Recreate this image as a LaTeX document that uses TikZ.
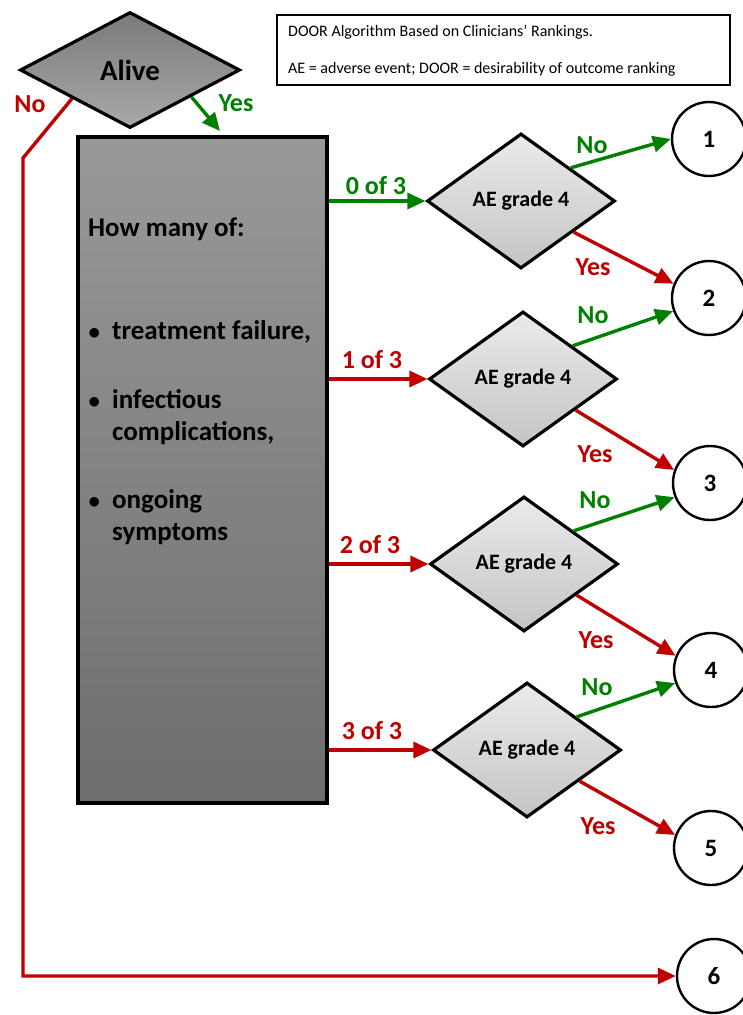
\documentclass[tikz,border=0pt]{standalone}
\usepackage{fontspec}
\setmainfont{Carlito}
\usetikzlibrary{shapes.geometric,arrows.meta,calc}
\definecolor{myred}{HTML}{C00000}
\definecolor{mygreen}{HTML}{008000}
\begin{document}
\begin{tikzpicture}[x=1pt,y=-1pt,
  dia/.style={diamond,draw=black,line width=3.2pt,inner sep=0pt,
     minimum width=188pt,minimum height=135pt,top color=white!92!black,bottom color=white!77!black,
     font=\bfseries\fontsize{22}{24}\selectfont},
  res/.style={circle,draw=black,line width=2.4pt,fill=white,minimum size=74pt,inner sep=0pt,
     font=\bfseries\fontsize{25}{28}\selectfont},
  arr/.style={line width=3.4pt,-{Triangle[length=18pt,width=16pt]}},
  garr/.style={arr,draw=mygreen},
  rarr/.style={arr,draw=myred},
  glab/.style={text=mygreen,font=\bfseries\fontsize{26}{28}\selectfont,inner sep=0pt},
  rlab/.style={text=myred,font=\bfseries\fontsize{26}{28}\selectfont,inner sep=0pt},
  boxtxt/.style={anchor=base west,inner sep=0pt,font=\bfseries\fontsize{27}{30}\selectfont},
]
\useasboundingbox (0,0) rectangle (743,1015);
% info box
\node[draw=black,line width=1.3pt,minimum width=453pt,minimum height=70pt,inner sep=0pt] (info) at (503.5,50) {};
\node[anchor=base west,inner sep=0pt,font=\fontsize{16}{18}\selectfont] (info1) at (288,36) {DOOR Algorithm Based on Clinicians’ Rankings.};
\node[anchor=base west,inner sep=0pt,font=\fontsize{16}{18}\selectfont] (info2) at (288,73) {AE = adverse event; DOOR = desirability of outcome ranking};
% alive
\node[diamond,draw=black,line width=3.2pt,inner sep=0pt,minimum width=220pt,minimum height=116pt,
  top color=white!48!black,bottom color=white!66!black,font=\bfseries\fontsize{29}{31}\selectfont] (alive) at (130,70) {Alive};
% big box
\node[draw=black,line width=3.2pt,minimum width=249pt,minimum height=666pt,inner sep=0pt,
  top color=white!60!black,bottom color=white!43!black] (box) at (202.5,470) {};
\node[boxtxt] (t0) at (88,236) {How many of:};
\node[boxtxt] (b1) at (88,339) {$\bullet$};
\node[boxtxt] (t1) at (112,339) {treatment failure,};
\node[boxtxt] (b2) at (88,408) {$\bullet$};
\node[boxtxt] (t2) at (112,408) {infectious};
\node[boxtxt] (t2b) at (112,440) {complications,};
\node[boxtxt] (b3) at (88,508) {$\bullet$};
\node[boxtxt] (t3) at (112,508) {ongoing};
\node[boxtxt] (t3b) at (112,540) {symptoms};
% diamonds
\node[dia] (d1) at (521,201) {AE grade 4};
\node[dia] (d2) at (523,379) {AE grade 4};
\node[dia] (d3) at (524,564) {AE grade 4};
\node[dia] (d4) at (527,750) {AE grade 4};
% results
\node[res] (r1) at (709,139) {1};
\node[res] (r2) at (709,298) {2};
\node[res] (r3) at (710,483) {3};
\node[res] (r4) at (711,670) {4};
\node[res] (r5) at (711,848) {5};
\node[res] (r6) at (714,976) {6};
% alive connectors
\coordinate (ye) at (220,131);
\draw[garr] ($(alive.south)!0.55!(alive.east)$) -- (ye);
\node[glab] (yl) at (236,103) {Yes};
\coordinate (n1) at (23,158);
\draw[rarr] ($(alive.south)!0.52!(alive.west)$) -- (n1) -- (n1 |- r6) -- (r6.west);
\node[rlab] (nl) at (30,104) {No};
% box to diamonds
\draw[garr] (box.east |- d1) -- (d1.west);
\draw[rarr] (box.east |- d2) -- (d2.west);
\draw[rarr] (box.east |- d3) -- (d3.west);
\draw[rarr] (box.east |- d4) -- (d4.west);
\node[glab] (l0) at (376,186) {0 of 3};
\node[rlab] (l1) at (372,360) {1 of 3};
\node[rlab] (l2) at (370,545) {2 of 3};
\node[rlab] (l3) at (372,731) {3 of 3};
% diamonds to results
\draw[garr] ($(d1.north)!0.52!(d1.east)$) -- (r1.180);
\draw[rarr] ($(d1.south)!0.55!(d1.east)$) -- (r2.158);
\draw[garr] ($(d2.north)!0.52!(d2.east)$) -- (r2.200);
\draw[rarr] ($(d2.south)!0.55!(d2.east)$) -- (r3.160);
\draw[garr] ($(d3.north)!0.52!(d3.east)$) -- (r3.202);
\draw[rarr] ($(d3.south)!0.55!(d3.east)$) -- (r4.158);
\draw[garr] ($(d4.north)!0.52!(d4.east)$) -- (r4.200);
\draw[rarr] ($(d4.south)!0.55!(d4.east)$) -- (r5.160);
% labels
\node[glab] (n1l) at (592,145) {No};
\node[rlab] (y1l) at (593,267) {Yes};
\node[glab] (n2l) at (593,315) {No};
\node[rlab] (y2l) at (595,454) {Yes};
\node[glab] (n3l) at (595,500) {No};
\node[rlab] (y3l) at (596,640) {Yes};
\node[glab] (n4l) at (597,687) {No};
\node[rlab] (y4l) at (598,826) {Yes};
\end{tikzpicture}
\end{document}
